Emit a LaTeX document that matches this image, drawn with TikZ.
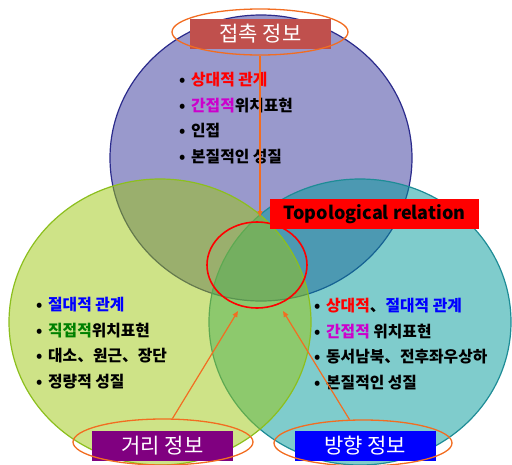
\documentclass[tikz,border=0pt]{standalone}
\usepackage{fontspec}
\setmainfont{Noto Sans CJK KR}
\usepackage{xcolor}
\usepackage{tikz}
\usetikzlibrary{positioning, shapes.geometric, arrows.meta}
\definecolor{vnPurple}{HTML}{333399}
\definecolor{vnPurpleLine}{HTML}{2B2B8C}
\definecolor{vnTeal}{HTML}{009999}
\definecolor{vnTealLine}{HTML}{1E8C96}
\definecolor{vnLime}{HTML}{9DC70F}
\definecolor{vnLimeLine}{HTML}{8CBF1E}
\definecolor{vnOrange}{HTML}{F26D21}
\definecolor{tagContact}{HTML}{C0504D}
\definecolor{tagDistance}{HTML}{800080}
\definecolor{tagDirection}{HTML}{0000FF}
\definecolor{relRed}{HTML}{FF0000}
\definecolor{absBlue}{HTML}{0000FF}
\definecolor{indMagenta}{HTML}{CC00CC}
\definecolor{dirGreen}{HTML}{008000}
\newcommand{\itm}{\makebox[12pt][l]{•}}
\tikzset{
  venn/.style={
    ellipse, draw=#1Line, fill=#1, fill opacity=0.5,
    line width=1.2pt, inner sep=0pt,
    minimum width=302pt, minimum height=286pt
  },
  infotag/.style={
    rectangle, fill=#1, text=white, inner sep=0pt,
    minimum width=141pt, minimum height=30pt,
    font=\fontsize{21}{21}\selectfont
  },
  ring/.style={
    ellipse, draw=vnOrange, line width=1.3pt, inner sep=0pt,
    minimum height=46pt
  },
  pointer/.style={
    -{Triangle[length=6pt, width=5pt]},
    vnOrange, line width=1.2pt
  },
  bulletlist/.style={
    anchor=north west, inner sep=0pt, align=left,
    font=\bfseries\fontsize{15.8}{25.5}\selectfont
  }
}

\begin{document}
\begin{tikzpicture}[x=1pt, y=-1pt]
  \useasboundingbox (0,0) rectangle (512,464);
  % three information circles
  \node[venn=vnPurple] (contact) at (261,158) {};
  \node[venn=vnTeal] (direction) at (360,322) {};
  \node[venn=vnLime] (distance) at (160,322) {};
  % overlap marker
  \node[ellipse, draw=red, line width=1.6pt, inner sep=0pt, minimum width=100pt, minimum height=86pt] (topo) at (257,265) {};
  \node[rectangle, fill=red, inner sep=0pt, minimum width=209pt, minimum height=30pt, font=\bfseries\fontsize{18}{18}\selectfont] (topolabel) at (374.5,214) {Topological relation};
  % lists
  \node[bulletlist] (contactlist) at (179,72) {\itm\textcolor{relRed}{상대적 관계}\\
    \itm\textcolor{indMagenta}{간접적}위치표현\\
    \itm 인접\\
    \itm 본질적인 성질};
  \node[bulletlist] (distlist) at (36,297) {\itm\textcolor{absBlue}{절대적 관계}\\
    \itm\textcolor{dirGreen}{직접적}위치표현\\
    \itm 대소、원근、장단\\
    \itm 정량적 성질};
  \node[bulletlist] (dirlist) at (314,298) {\itm\textcolor{relRed}{상대적}、\textcolor{absBlue}{절대적 관계}\\
    \itm\textcolor{indMagenta}{간접적} 위치표현\\
    \itm 동서남북、전후좌우상하\\
    \itm 본질적인 성질};
  % tags
  \node[infotag=tagContact] (contacttag) at (260.5,33.5) {접촉 정보};
  \node[infotag=tagDistance] (disttag) at (162.5,446) {거리 정보};
  \node[infotag=tagDirection] (dirtag) at (365,446) {방향 정보};
  \node[ring, minimum width=176pt] (contactring) at (260,32) {};
  \node[ring, minimum width=180pt] (distring) at (163,442) {};
  \node[ring, minimum width=178pt] (dirring) at (363,443) {};
  % pointers
  \coordinate (topin) at (260,217);
  \coordinate (leftin) at (238,311);
  \coordinate (rightin) at (283,311);
  \draw[pointer] (contactring.south) -- (topin);
  \draw[pointer] (distring.68) -- (leftin);
  \draw[pointer] (dirring.120) -- (rightin);
\end{tikzpicture}
\end{document}
